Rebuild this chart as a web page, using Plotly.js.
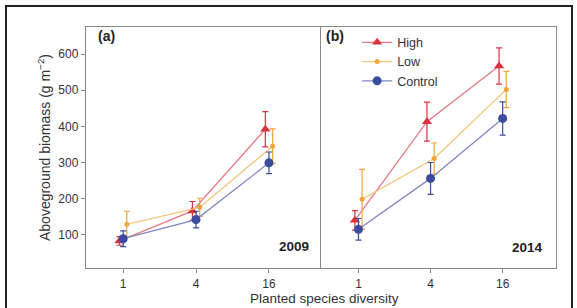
<!DOCTYPE html>
<html><head><meta charset="utf-8">
<script src="https://cdn.plot.ly/plotly-3.0.1.min.js"></script>
<style>html,body{margin:0;padding:0;background:#fff}</style>
</head><body><div id="chart" style="width:577px;height:308px"></div>
<script>
const diversity = ['1', '4', '16'];
const treatments = ['High', 'Low', 'Control'];
// 2009 panel (a)
const high2009 = [83, 166, 392];
const high2009Err = [12, 26, 49];
const low2009 = [129, 176, 345];
const low2009Err = [36, 25, 48];
const control2009 = [89, 142, 299];
const control2009Err = [22, 23, 30];
// 2014 panel (b)
const high2014 = [140, 413, 567];
const high2014Err = [27, 54, 50];
const low2014 = [198, 311, 502];
const low2014Err = [83, 43, 50];
const control2014 = [115, 256, 422];
const control2014Err = [30, 44, 46];

const styles = {
  High: {mc: '#d93340', lc: '#e37a83', sym: 'triangle-up', size: 9, off: -0.05},
  Low: {mc: '#f2a53a', lc: '#f3c77e', sym: 'circle', size: 5, off: 0.05},
  Control: {mc: '#3a4ba0', lc: '#8088c4', sym: 'circle', size: 9, off: 0}
};
const pos = diversity.map((d, i) => i);
function mk(name, y, err, xa, ya, show) {
  const s = styles[name];
  return {
    x: pos.map(p => p + s.off), y: y, name: name, xaxis: xa, yaxis: ya,
    type: 'scatter', mode: 'lines+markers', showlegend: show,
    line: {color: s.lc, width: 1.3},
    marker: {color: s.mc, symbol: s.sym, size: s.size},
    error_y: {type: 'data', array: err, visible: true, color: s.mc, thickness: 1.2, width: 3}
  };
}
const data = [
  mk('High', high2009, high2009Err, 'x', 'y', false),
  mk('Low', low2009, low2009Err, 'x', 'y', false),
  mk('Control', control2009, control2009Err, 'x', 'y', false),
  mk('High', high2014, high2014Err, 'x2', 'y2', true),
  mk('Low', low2014, low2014Err, 'x2', 'y2', true),
  mk('Control', control2014, control2014Err, 'x2', 'y2', true)
];
const fam = 'Liberation Sans, Arial, sans-serif';
const fnt = {family: fam, size: 12, color: '#333'};
const xbase = {
  range: [-0.51, 2.7], tickvals: pos, ticktext: diversity, showgrid: false, zeroline: false,
  showline: true, mirror: true, linecolor: '#888', linewidth: 1.2,
  ticks: 'outside', ticklen: 4, tickcolor: '#888', tickfont: fnt, fixedrange: true
};
const ybase = {
  range: [8, 675], tickvals: [100, 200, 300, 400, 500, 600], showgrid: false, zeroline: false,
  showline: true, mirror: true, linecolor: '#888', linewidth: 1.2,
  ticks: 'outside', ticklen: 4, tickcolor: '#888', tickfont: fnt
};
const layout = {
  width: 577, height: 308, margin: {l: 0, r: 0, t: 0, b: 0},
  paper_bgcolor: '#fff', plot_bgcolor: '#fff', font: fnt,
  xaxis: Object.assign({}, xbase, {domain: [86/577, 320/577], anchor: 'y'}),
  xaxis2: Object.assign({}, xbase, {domain: [321/577, 556/577], anchor: 'y2', range: [-0.52, 2.74]}),
  yaxis: Object.assign({}, ybase, {domain: [1 - 268/308, 1 - 27/308], anchor: 'x',
    title: {text: 'Aboveground biomass (g m<sup>−2</sup>)', font: {family: fam, size: 14, color: '#333'}, standoff: 4}}),
  yaxis2: Object.assign({}, ybase, {domain: [1 - 268/308, 1 - 27/308], anchor: 'x2', showticklabels: false, ticks: ''}),
  legend: {x: 0.619, y: 0.91, xanchor: 'left', yanchor: 'top', bgcolor: 'rgba(0,0,0,0)',
    font: {family: fam, size: 12.5, color: '#333'}, tracegroupgap: 0, itemwidth: 30},
  annotations: [
    {text: '<b>(a)</b>', x: 96/577, y: 1 - 36/308, xref: 'paper', yref: 'paper', xanchor: 'left', yanchor: 'middle', showarrow: false, font: {family: fam, size: 14, color: '#222'}},
    {text: '<b>(b)</b>', x: 324/577, y: 1 - 36/308, xref: 'paper', yref: 'paper', xanchor: 'left', yanchor: 'middle', showarrow: false, font: {family: fam, size: 14, color: '#222'}},
    {text: '<b>2009</b>', x: 311/577, y: 1 - 246/308, xref: 'paper', yref: 'paper', xanchor: 'right', yanchor: 'middle', showarrow: false, font: {family: fam, size: 13.5, color: '#222'}},
    {text: '<b>2014</b>', x: 545/577, y: 1 - 247/308, xref: 'paper', yref: 'paper', xanchor: 'right', yanchor: 'middle', showarrow: false, font: {family: fam, size: 13.5, color: '#222'}},
    {text: 'Planted species diversity', x: 324/577, y: 1 - 298/308, xref: 'paper', yref: 'paper', xanchor: 'center', yanchor: 'middle', showarrow: false, font: {family: fam, size: 13.5, color: '#333'}}
  ],
  shapes: [
    {type: 'rect', xref: 'paper', yref: 'paper', x0: 6/577, x1: 572/577, y0: -0.05, y1: 1 - 6/308, line: {color: '#222', width: 2}}
  ]
};
Plotly.newPlot('chart', data, layout, {displayModeBar: false, staticPlot: true});
</script></body></html>
